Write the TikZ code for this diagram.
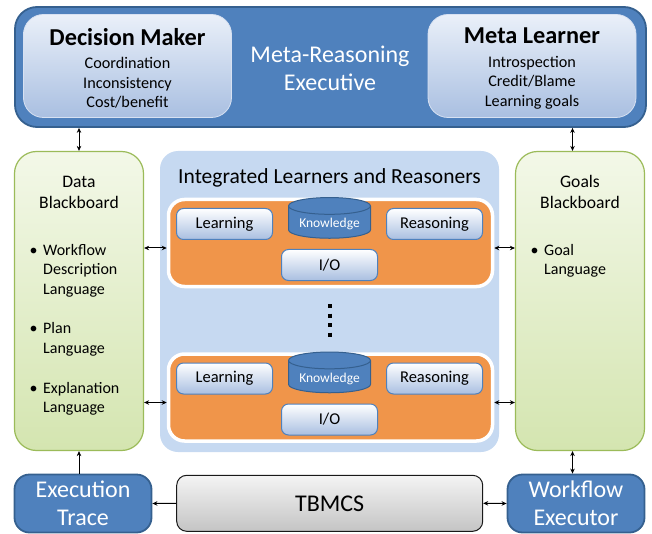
\documentclass[tikz,border=0pt]{standalone}
\usepackage{fontspec}
\setmainfont{Carlito}
\usepackage{tikz}
\usetikzlibrary{positioning}
\usetikzlibrary{arrows.meta}
\usetikzlibrary{shapes.geometric}

\definecolor{exblue}{HTML}{4F81BD}
\definecolor{exline}{HTML}{35608F}
\definecolor{paletop}{HTML}{EAF0F9}
\definecolor{palebot}{HTML}{A9BFE1}
\definecolor{greentop}{HTML}{F3F8E8}
\definecolor{greenbot}{HTML}{D4E5B0}
\definecolor{greenline}{HTML}{9BBB59}
\definecolor{panelblue}{HTML}{C6D9F1}
\definecolor{orangefill}{HTML}{F0954A}
\definecolor{graytop}{HTML}{F4F4F4}
\definecolor{graybot}{HTML}{C4C4C4}

\tikzset{
    darkbox/.style={draw=exline, line width=1.8pt, fill=exblue, text=white},
    metabox/.style={draw=paletop!70!palebot, line width=0.8pt, top color=paletop, bottom color=palebot,
        rounded corners=20pt, minimum width=208pt, minimum height=103pt},
    metatext/.style={align=center, font=\fontsize{16.2}{19.5}\selectfont},
    boardbox/.style={draw=greenline, line width=1.2pt, top color=greentop,
        bottom color=greenbot, rounded corners=22pt, minimum width=129pt, minimum height=299pt},
    unitbox/.style={draw=white, line width=3.5pt, fill=orangefill, rounded corners=16pt,
        minimum width=324pt, minimum height=87pt},
    partbox/.style={draw=exblue, line width=1pt, top color=white, bottom color=palebot,
        rounded corners=7pt, minimum width=96pt, minimum height=31pt,
        font=\fontsize{16.5}{19}\selectfont},
    storebox/.style={shape=cylinder, shape border rotate=90, aspect=0.25, draw=exline,
        line width=1pt, fill=exblue, text=white, minimum width=82pt, minimum height=33pt,
        font=\fontsize{13.5}{15}\selectfont},
    bullets/.style={anchor=north west, inner sep=0pt, align=left,
        font=\fontsize{16}{19.6}\selectfont},
    onehead/.style={-{Stealth[length=5pt, width=4.5pt]}, line width=1pt},
    twohead/.style={{Stealth[length=5pt, width=4.5pt]}-{Stealth[length=5pt, width=4.5pt]}, line width=1pt}
}

\begin{document}
\begin{tikzpicture}[x=1pt, y=-1pt]
    \useasboundingbox (0,0) rectangle (652,534);

    % executive on top
    \node[darkbox, rounded corners=22pt, minimum width=631pt, minimum height=120pt] (M_E) at (330.5,67) {};
    \node[text=white, align=center, font=\fontsize{24}{28}\selectfont] (M_R) at (330,68) {Meta-Reasoning\\Executive};
    \node[metabox] (D_M) at (127.5,66) {};
    \node[metabox] (M_L) at (532,66) {};
    \node[metatext] (D_M_t) at (127.5,68.5) {{\fontsize{24.3}{24}\selectfont\bfseries Decision Maker}\\[4pt]Coordination\\Inconsistency\\Cost/benefit};
    \node[metatext] (M_L_t) at (532,68.5) {{\fontsize{24.3}{24}\selectfont\bfseries Meta Learner}\\[4pt]Introspection\\Credit/Blame\\Learning goals};

    % blackboards
    \node[boardbox] (D_B) at (79,301) {};
    \node[boardbox] (G_B) at (580,301) {};
    \node[align=center, font=\fontsize{17.6}{21}\selectfont] (D_B_t) at (79,192) {Data\\Blackboard};
    \node[align=center, font=\fontsize{17.6}{21}\selectfont] (G_B_t) at (580,192) {Goals\\Blackboard};
    \node[bullets] (D_B_1) at (43,244) {\llap{•\hspace{5.5pt}}Workflow\\Description\\Language};
    \node[bullets] (D_B_2) at (43,322.5) {\llap{•\hspace{5.5pt}}Plan\\Language};
    \node[bullets] (D_B_3) at (43,382) {\llap{•\hspace{5.5pt}}Explanation\\Language};
    \node[bullets] (G_B_1) at (544,244) {\llap{•\hspace{5.5pt}}Goal\\Language};

    % learners and reasoners
    \node[fill=panelblue, rounded corners=18pt, minimum width=339pt, minimum height=301pt] (I_LR) at (329.5,301.5) {};
    \node[font=\fontsize{21.5}{25}\selectfont] (I_LR_t) at (329.5,178) {Integrated Learners and Reasoners};

    \node[unitbox] (U_1) at (330.5,243) {};
    \node[partbox] (L_1) at (224.5,224) {Learning};
    \node[storebox] (K_1) at (329.5,224) {Knowledge};
    \node[partbox] (R_1) at (434.5,224) {Reasoning};
    \node[partbox] (IO_1) at (329.5,265) {I/O};

    \draw[line width=4pt, dash pattern=on 4pt off 5.5pt] (330,304) -- (330,337);

    \node[unitbox] (U_2) at (330.5,397.5) {};
    \node[partbox] (L_2) at (224.5,378.5) {Learning};
    \node[storebox] (K_2) at (329.5,378.5) {Knowledge};
    \node[partbox] (R_2) at (434.5,378.5) {Reasoning};
    \node[partbox] (IO_2) at (329.5,419.5) {I/O};

    % bottom row
    \node[darkbox, rounded corners=15pt, minimum width=137pt, minimum height=58pt, align=center,
        font=\fontsize{24}{28}\selectfont] (E_T) at (83,503.5) {Execution\\Trace};
    \node[draw=black!90, line width=1pt, top color=graytop, bottom color=graybot, rounded corners=10pt,
        minimum width=306pt, minimum height=56pt, font=\fontsize{24}{28}\selectfont] (T_B) at (329.7,503.3) {TBMCS};
    \node[darkbox, rounded corners=15pt, minimum width=137pt, minimum height=58pt, align=center,
        font=\fontsize{24}{28}\selectfont] (W_E) at (576,503.5) {Workflow\\Executor};

    % connectors
    \draw[twohead] (D_B.north) -- (D_B.north |- M_E.south);
    \draw[twohead] ([xshift=-7.5pt]G_B.north) -- ([xshift=-7.5pt]G_B.north |- M_E.south);
    \draw[twohead] ([yshift=-5pt]U_1.west) -- ([yshift=-5pt]U_1.west -| D_B.east);
    \draw[twohead] ([yshift=-5pt]U_2.west) -- ([yshift=-5pt]U_2.west -| D_B.east);
    \draw[twohead] ([yshift=-5pt]U_1.east) -- ([yshift=-5pt]U_1.east -| G_B.west);
    \draw[twohead] ([yshift=-5pt]U_2.east) -- ([yshift=-5pt]U_2.east -| G_B.west);
    \draw[onehead] (D_B.south |- E_T.north) -- (D_B.south);
    \draw[twohead] ([xshift=-7.5pt]G_B.south) -- ([xshift=-7.5pt]G_B.south |- W_E.north);
    \draw[onehead] (T_B.west) -- (E_T.east);
    \draw[twohead] (T_B.east) -- (W_E.west);
\end{tikzpicture}
\end{document}
